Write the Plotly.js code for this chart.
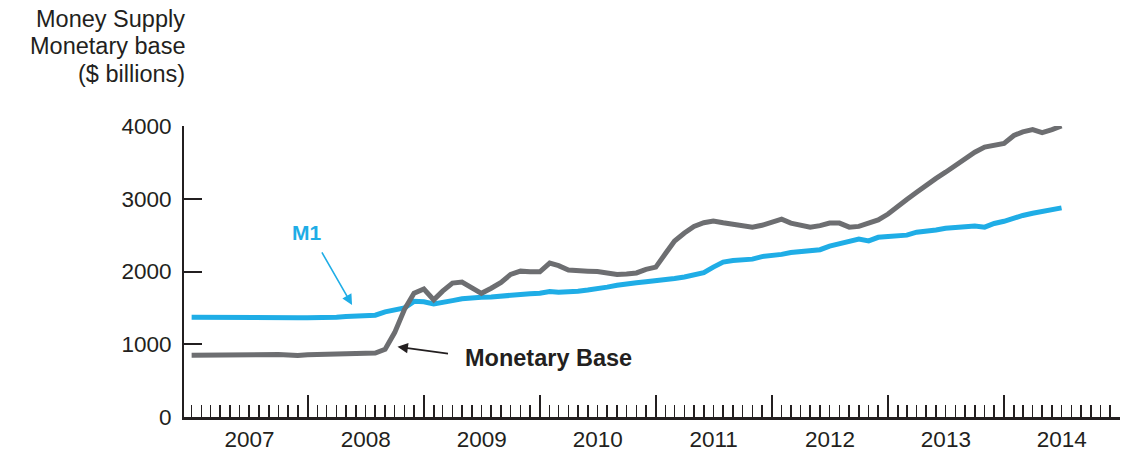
<!DOCTYPE html>
<html>
<head>
<meta charset="utf-8">
<script src="https://cdn.plot.ly/plotly-3.0.1.min.js"></script>
<style>
html,body{margin:0;padding:0;background:#fff;}
#chart{width:1138px;height:452px;}
</style>
</head>
<body>
<div id="chart"></div>
<script>
// Monthly observations, January 2007 onward ($ billions)
const startYear = 2007;
const m1 = [
  1370, 1368, 1372, 1368, 1365, 1365, 1368, 1365, 1362, 1360, 1362, 1365,
  1365, 1362, 1368, 1372, 1380, 1390, 1395, 1400, 1445, 1470, 1500, 1590,
  1585, 1555, 1570, 1600, 1625, 1640, 1645, 1650, 1665, 1675, 1680, 1695,
  1700, 1725, 1715, 1715, 1730, 1745, 1760, 1785, 1810, 1820, 1845, 1860,
  1870, 1885, 1905, 1925, 1955, 1985, 2060, 2130, 2150, 2165, 2170, 2205,
  2215, 2235, 2260, 2275, 2285, 2300, 2350, 2385, 2420, 2445, 2420, 2470,
  2480, 2490, 2500, 2540, 2550, 2570, 2595, 2605, 2630, 2625, 2610, 2660,
  2690, 2740, 2770, 2800, 2820, 2850, 2875
];
const monetaryBase = [
  850, 852, 855, 853, 855, 857, 858, 858, 860, 858, 852, 845,
  855, 858, 862, 860, 863, 866, 870, 880, 930, 1160, 1480, 1700,
  1760, 1610, 1730, 1840, 1855, 1770, 1700, 1770, 1850, 1960, 2005, 1995,
  1995, 2115, 2080, 2020, 2005, 2005, 2000, 1985, 1960, 1965, 1980, 2030,
  2060, 2250, 2420, 2530, 2620, 2670, 2695, 2670, 2650, 2630, 2610, 2635,
  2680, 2720, 2665, 2640, 2610, 2630, 2665, 2665, 2610, 2620, 2660, 2710,
  2790, 2885, 2990, 3090, 3190, 3280, 3365, 3460, 3550, 3640, 3710, 3740,
  3760, 3870, 3920, 3950, 3910, 3950, 4000
];
const yearLabels = ['2007','2008','2009','2010','2011','2012','2013','2014'];
const yTicks = [0, 1000, 2000, 3000, 4000];
const titleLines = ['Money Supply', 'Monetary base', '($ billions)'];

function pad(n){return n<10?'0'+n:''+n;}
const months = m1.map((_, i) => {
  const y = startYear + Math.floor(i/12);
  const m = (i % 12) + 1;
  return y + '-' + pad(m) + '-01';
});
const yearStarts = yearLabels.map(y => (parseInt(y,10)+1) + '-01-01');
const yearMids = yearLabels.map(y => y + '-07-02');

const INK = '#231f20';
const BLUE = '#1fade6';
const GRAY = '#6d6e71';
const FONT = 'Liberation Sans, Arial, Helvetica, sans-serif';
const xRange = ['2006-12-08', '2015-01-01'];

const traces = [
  {x: months, y: m1, type: 'scatter', mode: 'lines', name: 'M1',
   line: {color: BLUE, width: 5}, hoverinfo: 'skip'},
  {x: months, y: monetaryBase, type: 'scatter', mode: 'lines', name: 'Monetary Base',
   line: {color: GRAY, width: 5}, hoverinfo: 'skip'},
  {x: yearMids, y: yearMids.map(() => null), xaxis: 'x2', yaxis: 'y',
   type: 'scatter', mode: 'lines', showlegend: false, hoverinfo: 'skip'}
];

const titlePaperY = [1.3677, 1.2732, 1.1787];
const annotations = titleLines.map((t, i) => ({
  text: t, xref: 'paper', yref: 'paper', x: 0, y: titlePaperY[i],
  xanchor: 'right', yanchor: 'middle', align: 'right', xshift: 3,
  showarrow: false, font: {family: FONT, size: 23.5, color: INK}
}));
annotations.push(
  {text: '<b>M1</b>', xref: 'x', yref: 'y', x: '2007-12-29', y: 2530,
   showarrow: false, font: {family: FONT, size: 21, color: BLUE}},
  {text: '', xref: 'x', yref: 'y', x: '2008-05-20', y: 1540,
   showarrow: true, ax: -31, ay: -54, arrowhead: 2, arrowsize: 1.3, arrowwidth: 1.6,
   arrowcolor: BLUE},
  {text: '<b>Monetary Base</b>', xref: 'x', yref: 'y', x: '2010-01-28', y: 810,
   showarrow: false, font: {family: FONT, size: 23.5, color: INK}},
  {text: '', xref: 'x', yref: 'y', x: '2008-10-10', y: 965,
   showarrow: true, ax: 52, ay: 7, arrowhead: 2, arrowsize: 1.3, arrowwidth: 1.6,
   arrowcolor: INK}
);

const layout = {
  width: 1138, height: 452,
  margin: {l: 184, r: 18, t: 126, b: 35},
  paper_bgcolor: '#fff', plot_bgcolor: '#fff',
  showlegend: false,
  font: {family: FONT, color: INK, size: 22},
  xaxis: {
    type: 'date', range: xRange,
    showgrid: false, zeroline: false,
    showline: true, linecolor: INK, linewidth: 2.5,
    tickmode: 'array', tickvals: yearStarts,
    ticks: 'inside', ticklen: 22, tickwidth: 2, tickcolor: INK,
    showticklabels: false,
    minor: {dtick: 'M1', tick0: '2007-01-01', ticks: 'inside', ticklen: 12,
            tickwidth: 1.6, tickcolor: INK, showgrid: false}
  },
  xaxis2: {
    type: 'date', range: xRange, overlaying: 'x', anchor: 'y', side: 'bottom',
    showgrid: false, zeroline: false, showline: false,
    tickmode: 'array', tickvals: yearMids, ticktext: yearLabels,
    ticks: '', ticklabelstandoff: 6,
    tickfont: {family: FONT, size: 22.5, color: INK}
  },
  yaxis: {
    range: [0, 4000], tickmode: 'array', tickvals: yTicks,
    ticktext: yTicks.map(String),
    showgrid: false, zeroline: false,
    showline: true, linecolor: INK, linewidth: 2,
    ticks: 'inside', ticklen: 18, tickwidth: 2, tickcolor: INK,
    ticklabelstandoff: 6,
    tickfont: {family: FONT, size: 22.5, color: INK}
  },
  annotations: annotations
};

Plotly.newPlot('chart', traces, layout, {staticPlot: true, displayModeBar: false});
</script>
</body>
</html>
